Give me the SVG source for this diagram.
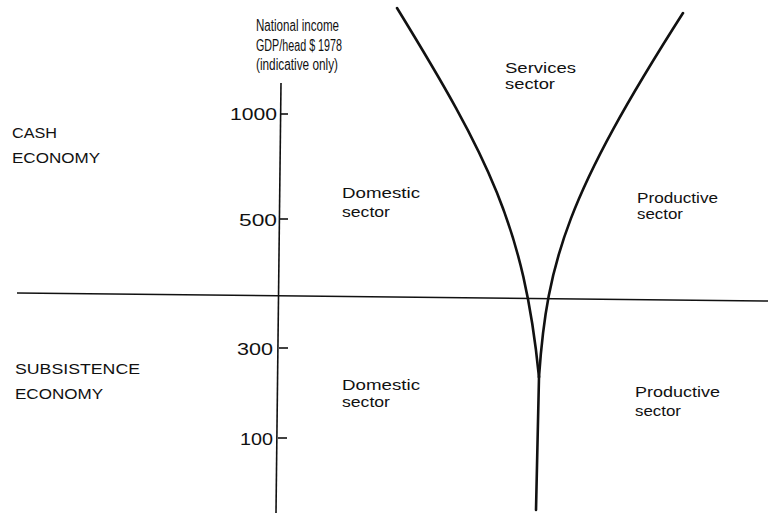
<svg xmlns="http://www.w3.org/2000/svg" width="768" height="515" viewBox="0 0 768 515">
<style>
text{font-family:"Liberation Sans",Arial,sans-serif;font-size:15px;fill:#111;}
.ttl{font-size:16px;}
.ax{stroke:#111;stroke-width:1.6;fill:none;}
.cv{stroke:#111;stroke-width:2.6;fill:none;stroke-linecap:round;}
.num{font-size:16.5px;}
</style>
<rect width="768" height="515" fill="#fff"/>
<g id="axis-title">
<text class="ttl" x="256" y="31" textLength="83" lengthAdjust="spacingAndGlyphs">National income</text>
<text class="ttl" x="256" y="51" textLength="86" lengthAdjust="spacingAndGlyphs">GDP/head $ 1978</text>
<text class="ttl" x="256" y="70" textLength="82" lengthAdjust="spacingAndGlyphs">(indicative only)</text>
</g>
<g id="y-axis">
<line class="ax" x1="281" y1="83" x2="276" y2="513"/>
<line class="ax" x1="280" y1="114" x2="288" y2="114"/>
<line class="ax" x1="280" y1="219" x2="288" y2="219"/>
<line class="ax" x1="279" y1="348" x2="288" y2="348"/>
<line class="ax" x1="278" y1="438" x2="287" y2="438"/>
<text class="num" x="230" y="120" textLength="47" lengthAdjust="spacingAndGlyphs">1000</text>
<text class="num" x="239" y="226" textLength="38" lengthAdjust="spacingAndGlyphs">500</text>
<text class="num" x="237" y="355" textLength="36" lengthAdjust="spacingAndGlyphs">300</text>
<text class="num" x="240" y="445" textLength="33" lengthAdjust="spacingAndGlyphs">100</text>
</g>
<g id="divider">
<line class="ax" x1="17" y1="293" x2="768" y2="301"/>
</g>
<g id="cash-economy">
<text x="12" y="138" textLength="45" lengthAdjust="spacingAndGlyphs">CASH</text>
<text x="12" y="163" textLength="88" lengthAdjust="spacingAndGlyphs">ECONOMY</text>
</g>
<g id="subsistence-economy">
<text x="15" y="374" textLength="125" lengthAdjust="spacingAndGlyphs">SUBSISTENCE</text>
<text x="15" y="399" textLength="88" lengthAdjust="spacingAndGlyphs">ECONOMY</text>
</g>
<g id="sector-curves">
<path class="cv" d="M397,8 C489,158 524,227 539,377"/>
<path class="cv" d="M683,13 C568,193 547,260 539,377"/>
<path class="cv" d="M539,377 L536,510"/>
</g>
<g id="domestic-cash">
<text x="342" y="198" textLength="78" lengthAdjust="spacingAndGlyphs">Domestic</text>
<text x="342" y="217" textLength="48" lengthAdjust="spacingAndGlyphs">sector</text>
</g>
<g id="services">
<text x="505" y="73" textLength="71" lengthAdjust="spacingAndGlyphs">Services</text>
<text x="505" y="89" textLength="50" lengthAdjust="spacingAndGlyphs">sector</text>
</g>
<g id="productive-cash">
<text x="637" y="203" textLength="81" lengthAdjust="spacingAndGlyphs">Productive</text>
<text x="637" y="219" textLength="46" lengthAdjust="spacingAndGlyphs">sector</text>
</g>
<g id="domestic-subsistence">
<text x="342" y="390" textLength="78" lengthAdjust="spacingAndGlyphs">Domestic</text>
<text x="342" y="407" textLength="48" lengthAdjust="spacingAndGlyphs">sector</text>
</g>
<g id="productive-subsistence">
<text x="635" y="397" textLength="85" lengthAdjust="spacingAndGlyphs">Productive</text>
<text x="635" y="416" textLength="46" lengthAdjust="spacingAndGlyphs">sector</text>
</g>
</svg>
